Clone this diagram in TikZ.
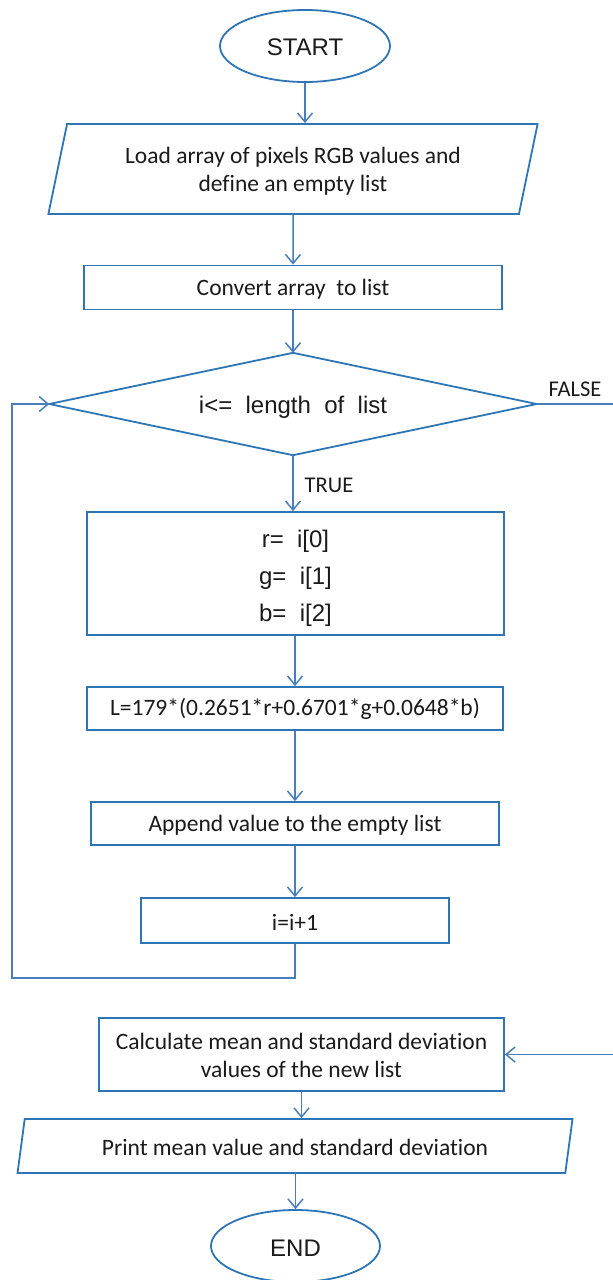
\documentclass[tikz,border=0pt]{standalone}
\usepackage{fontspec}
\setmainfont{Carlito}[Ligatures=NoCommon]
\newfontfamily\arialf{Liberation Sans}
\usetikzlibrary{shapes.geometric,arrows.meta}
\definecolor{shapeblue}{RGB}{46,117,182}
\definecolor{lineblue}{RGB}{74,126,187}
\definecolor{txt}{RGB}{26,26,26}
\begin{document}
\begin{tikzpicture}[x=1pt,y=-1pt,
  every node/.style={text=txt},
  box/.style={draw=shapeblue,line width=1.8pt,rectangle,inner sep=0pt,align=center,
    font=\fontsize{23.5}{28}\selectfont},
  term/.style={draw=shapeblue,line width=1.8pt,ellipse,inner sep=0pt,
    font=\arialf\fontsize{24}{28}\selectfont},
  iobox/.style={draw=shapeblue,line width=1.8pt,trapezium,trapezium left angle=75,
    trapezium right angle=105,trapezium stretches=true,inner sep=0pt,align=center,
    font=\fontsize{23.5}{28}\selectfont},
  decision/.style={rectangle,inner sep=0pt,
    font=\arialf\fontsize{24}{28}\selectfont},
  diamondline/.style={draw=shapeblue,line width=1.8pt,line join=miter},
  conn/.style={draw=lineblue,line width=1.5pt},
  arr/.style={conn,-{Straight Barb[length=9pt,width=15pt,line width=1.5pt]}},
  lbl/.style={font=\fontsize{22.5}{26}\selectfont}
]
\useasboundingbox (0,0) rectangle (613,1280);
\node[term,minimum width=170,minimum height=72] (start) at (305,46) {\rule{0pt}{20pt}START};
\node[iobox,minimum width=490,minimum height=90] (load) at (293,169)
  {\rule{0pt}{20pt}Load array of pixels RGB values and\\define an empty list};
\node[box,minimum width=418,minimum height=44] (convert) at (293,287.5) {\rule{0pt}{19pt}Convert array\ \ to list};
\node[decision,minimum width=487,minimum height=102] (dec) at (293,404) {\rule{0pt}{23pt}i<=\ \ length\ \ of\ \ list};
\draw[diamondline] (dec.north) -- (dec.east) -- (dec.south) -- (dec.west) -- cycle;
\node[box,minimum width=417,minimum height=123,font=\arialf\fontsize{24}{37}\selectfont]
  (rgb) at (295.5,573.5) {\rule{0pt}{27pt}r=\ \ i[0]\\g=\ \ i[1]\\b=\ \ i[2]};
\node[box,minimum width=416,minimum height=43] (lum) at (295,708.5) {L=179*(0.2651*r+0.6701*g+0.0648*b)};
\node[box,minimum width=408,minimum height=43] (app) at (295,823.5) {\rule{0pt}{19pt}Append value to the empty list};
\node[box,minimum width=308,minimum height=45] (inc) at (295,920.5) {\rule{0pt}{19pt}i=i+1};
\node[box,minimum width=405,minimum height=73] (calc) at (301.5,1054.5)
  {\rule{0pt}{19pt}Calculate mean and standard deviation\\values of the new list};
\node[iobox,minimum width=556,minimum height=54] (print) at (295,1146)
  {\rule{0pt}{19pt}Print mean value and standard deviation};
\node[term,minimum width=169,minimum height=72] (end) at (295.5,1246) {\rule{0pt}{20pt}END};
\node[lbl] (truelbl) at (329,485) {TRUE};
\node[lbl] (falselbl) at (575,389) {FALSE};
\coordinate (loopc) at (12,978);
\coordinate (falsec) at (617,1054.5);
\draw[arr] (start.south) -- (start.south |- load.north);
\draw[arr] (load.south) -- (convert.north);
\draw[arr] (convert.south) -- (dec.north);
\draw[arr] (dec.south) -- (dec.south |- rgb.north);
\draw[arr] (rgb.south -| lum.north) -- (lum.north);
\draw[arr] (lum.south) -- (app.north);
\draw[arr] (app.south) -- (inc.north);
\draw[arr] (inc.south) |- (loopc) |- (dec.west);
\draw[arr] (dec.east) -| (falsec) |- (calc.east);
\draw[arr] (calc.south) -- (calc.south |- print.north);
\draw[arr] (print.south) -- (print.south -| end.north) -- (end.north);
\end{tikzpicture}
\end{document}
